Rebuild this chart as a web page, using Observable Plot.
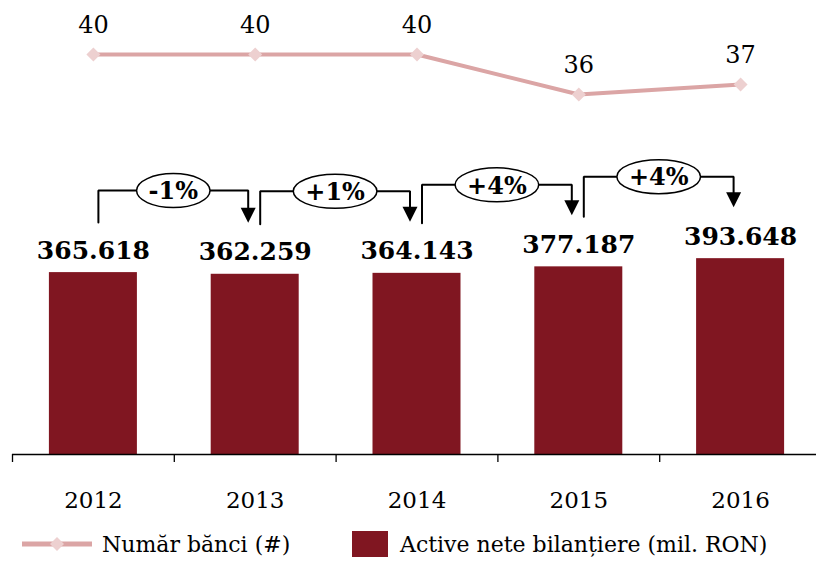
<!DOCTYPE html>
<html><head><meta charset="utf-8">
<script src="https://cdn.jsdelivr.net/npm/d3@7"></script>
<script src="https://cdn.jsdelivr.net/npm/@observablehq/plot@0.6"></script>
<style>
body{margin:0;background:#fff;font-family:"DejaVu Serif",serif;color:#000;}
#wrap{position:relative;width:816px;height:563px;overflow:hidden;}
#legend{position:absolute;left:0;top:525px;width:816px;height:38px;font-size:22px;}
#legend .item{position:absolute;top:0;height:38px;display:flex;align-items:center;white-space:nowrap;}
</style></head><body>
<div id="wrap"><div id="chart"></div><div id="legend"></div></div>
<script>
// ---- data ----
const years = [2012, 2013, 2014, 2015, 2016];
const assets = [365618, 362259, 364143, 377187, 393648]; // mil. RON
const banks = [40, 40, 40, 36, 37];
const changes = ["-1%", "+1%", "+4%", "+4%"];
const seriesNames = ["Număr bănci (#)", "Active nete bilanțiere (mil. RON)"];

// ---- styles ----
const barColor = "#801621";
const lineColor = "#dba5a5";
const diamondColor = "#edd0d0";
const font = "DejaVu Serif";

const data = years.map((year, i) => ({year, value: assets[i], banks: banks[i]}));
const fmt = d3.formatLocale({decimal: ",", thousands: ".", grouping: [3], currency: ["", ""]}).format(",d");

// scales
const xDomain = [years[0] - 0.5, years[years.length - 1] + 0.5];
const xRange = [12, 821];
const yDomain = [0, 400000];
const yRange = [454, 255];
const unitsPerPx = (yDomain[1] - yDomain[0]) / (yRange[0] - yRange[1]);
const px = p => p * unitsPerPx;                       // pixel offset -> y units
const xu = p => p * (xDomain[1] - xDomain[0]) / (xRange[1] - xRange[0]); // pixel offset -> x units
const bankPx = 10;                                    // secondary axis: px per bank
const bankY = b => px(b * bankPx);

// brackets between consecutive years
const brackets = changes.map((label, i) => {
  const a = assets[i], b = assets[i + 1];
  const xL = years[i] + xu(5), xR = years[i + 1] - xu(7);
  return {
    label, i, xL, xR, xM: (xL + xR) / 2,
    start: a + px(50),
    top: Math.max(a, b) + px(82),
    arrowTop: b + px(66),
    arrowMid: b + px(59)
  };
});
const bracketPts = brackets.flatMap(d => [
  {i: d.i, x: d.xL, y: d.start},
  {i: d.i, x: d.xL, y: d.top},
  {i: d.i, x: d.xR, y: d.top},
  {i: d.i, x: d.xR, y: d.arrowTop}
]);

// custom symbols
const downTriangle = {draw(ctx) { ctx.moveTo(-7.5, -7.5); ctx.lineTo(7.5, -7.5); ctx.lineTo(0, 7.5); ctx.closePath(); }};
const ellipse = {draw(ctx, size) {
  const rx = Math.sqrt(size / Math.PI), ry = 17, k = 0.5523;
  ctx.moveTo(rx, 0);
  ctx.bezierCurveTo(rx, ry * k, rx * k, ry, 0, ry);
  ctx.bezierCurveTo(-rx * k, ry, -rx, ry * k, -rx, 0);
  ctx.bezierCurveTo(-rx, -ry * k, -rx * k, -ry, 0, -ry);
  ctx.bezierCurveTo(rx * k, -ry, rx, -ry * k, rx, 0);
  ctx.closePath();
}};
const canvas = document.createElement("canvas").getContext("2d");
canvas.font = `bold 24px "${font}"`;
const textW = s => canvas.measureText(s).width;

const tickPos = [...years, years[years.length - 1] + 1].map(y => y - 0.5);

const plot = Plot.plot({
  width: 816,
  height: 525,
  marginLeft: 12, marginRight: 0, marginTop: 0, marginBottom: 0,
  style: {fontFamily: font, background: "white", overflow: "visible"},
  x: {type: "linear", domain: xDomain, range: xRange, axis: null},
  y: {domain: yDomain, range: yRange, axis: null},
  marks: [
    Plot.rectY(data, {x1: d => d.year - xu(44), x2: d => d.year + xu(44), y: "value", fill: barColor}),
    Plot.ruleY([0], {stroke: "#000", strokeWidth: 1.3}),
    Plot.ruleX(tickPos, {x: d => d, y1: 0, y2: -px(8), stroke: "#000", strokeWidth: 1.3}),
    Plot.text(data, {x: "year", y: 0, text: d => String(d.year), dy: 46, fontSize: 23}),
    Plot.text(data, {x: "year", y: "value", text: d => fmt(d.value), dy: -22, fontSize: 25, fontWeight: "bold"}),
    Plot.line(bracketPts, {x: "x", y: "y", z: "i", stroke: "#000", strokeWidth: 2, strokeLinejoin: "miter"}),
    Plot.dot(brackets, {x: "xR", y: "arrowMid", symbol: downTriangle, r: 5, fill: "#000", stroke: "none"}),
    ...brackets.map(d => Plot.dot([d], {x: "xM", y: "top", symbol: ellipse, r: textW(d.label) / 2 + 12, fill: "white", stroke: "#000", strokeWidth: 1.5})),
    Plot.text(brackets, {x: "xM", y: "top", text: "label", fontSize: 24, fontWeight: "bold", dy: 1}),
    Plot.line(data, {x: "year", y: d => bankY(d.banks), stroke: lineColor, strokeWidth: 4}),
    Plot.dot(data, {x: "year", y: d => bankY(d.banks), symbol: "diamond2", r: 6.3, fill: diamondColor, stroke: "none"}),
    Plot.text(data, {x: "year", y: d => bankY(d.banks), text: d => String(d.banks), dy: -29, fontSize: 24})
  ]
});
document.getElementById("chart").appendChild(plot);

// legend
const legend = document.getElementById("legend");
legend.innerHTML = `
  <div class="item" style="left:22px">
    <svg width="70" height="16" style="margin-right:10px"><line x1="0" y1="8" x2="70" y2="8" stroke="${lineColor}" stroke-width="5"/><path d="M35,1 L42,8 L35,15 L28,8Z" fill="${diamondColor}"/></svg>
    <span>${seriesNames[0]}</span>
  </div>
  <div class="item" style="left:352px">
    <span style="display:inline-block;width:36px;height:26px;background:${barColor};margin-right:12px"></span>
    <span>${seriesNames[1]}</span>
  </div>`;
</script>
</body></html>
